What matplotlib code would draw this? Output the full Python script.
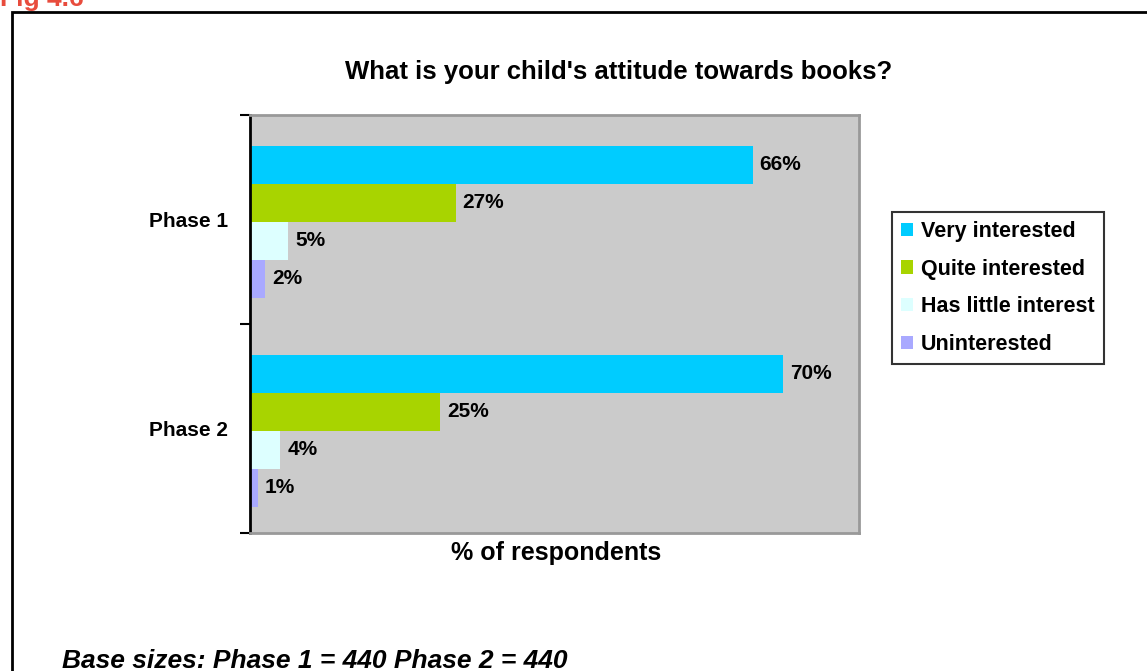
import numpy as np
import matplotlib.pyplot as plt
from matplotlib.patches import Rectangle

plt.rcParams['font.family'] = ['Liberation Sans', 'DejaVu Sans']

# datos
fases = ["Phase 1", "Phase 2"]
categorias = ["Very interested", "Quite interested", "Has little interest", "Uninterested"]
valores = {
    "Very interested": [66, 70],
    "Quite interested": [27, 25],
    "Has little interest": [5, 4],
    "Uninterested": [2, 1],
}
colores = ["#00CCFF", "#A8D400", "#DDFFFF", "#A9A9FF"]

fig = plt.figure(figsize=(11.47, 6.71), dpi=100)
ax = fig.add_axes([0.218, 0.2057, 0.531, 0.6229])
ax.set_facecolor("#CBCBCB")

y = np.arange(len(fases))
h = 0.182
for i, cat in enumerate(categorias):
    pos = y + (i - 1.5) * h + 0.01
    barras = ax.barh(pos, valores[cat], height=h, color=colores[i], label=cat)
    for b, v in zip(barras, valores[cat]):
        ax.text(b.get_width() + 0.9, b.get_y() + b.get_height() / 2, f"{v}%",
                va="center", ha="left", fontsize=15, fontweight="bold")

ax.set_xlim(0, 80)
ax.set_ylim(1.5, -0.5)
ax.set_xticks([])
ax.set_yticks([-0.5, 0.5, 1.5])
ax.set_yticklabels([])
ax.set_yticks(y, minor=True)
ax.set_yticklabels(fases, minor=True, fontsize=15, fontweight="bold")
ax.tick_params(axis="y", which="major", length=7, width=1.5, color="black")
ax.tick_params(axis="y", which="minor", length=0, pad=16)

# bordes del area del grafico
for lado in ["top", "right", "bottom"]:
    ax.spines[lado].set_color("#999999")
    ax.spines[lado].set_linewidth(2)
ax.spines["left"].set_color("black")
ax.spines["left"].set_linewidth(2)

# titulo y etiqueta del eje x
fig.text(619 / 1147, 1 - 72 / 671, "What is your child's attitude towards books?",
         fontsize=18.5, fontweight="bold", ha="center", va="center")
fig.text(556 / 1147, 1 - 553 / 671, "% of respondents",
         fontsize=18, fontweight="bold", ha="center", va="center")

leg = ax.legend(loc="upper left", bbox_to_anchor=(892 / 1147, 1 - 212 / 671),
                bbox_transform=fig.transFigure, borderaxespad=0,
                prop={"size": 15.5, "weight": "bold"}, fancybox=False,
                edgecolor="black", handlelength=0.56, handleheight=0.56,
                handletextpad=0.37, labelspacing=0.77, borderpad=0.42)
leg.get_frame().set_linewidth(1.5)

# marco de la figura y textos sueltos
fig.patches.append(Rectangle((12 / 1147, -0.05), 1.1, 1 - 12 / 671 + 0.05,
                             transform=fig.transFigure, fill=False,
                             edgecolor="black", linewidth=2))
fig.text(0.0, 1 - 6 / 671, "Fig 4.6", color="#E84C3D", fontsize=19, fontweight="bold",
         va="baseline", ha="left")
fig.text(62 / 1147, 1 - 661 / 671, "Base sizes: Phase 1 = 440 Phase 2 = 440",
         fontsize=19, fontweight="bold", style="italic", va="center", ha="left")

fig.savefig("out.png", dpi=100)
